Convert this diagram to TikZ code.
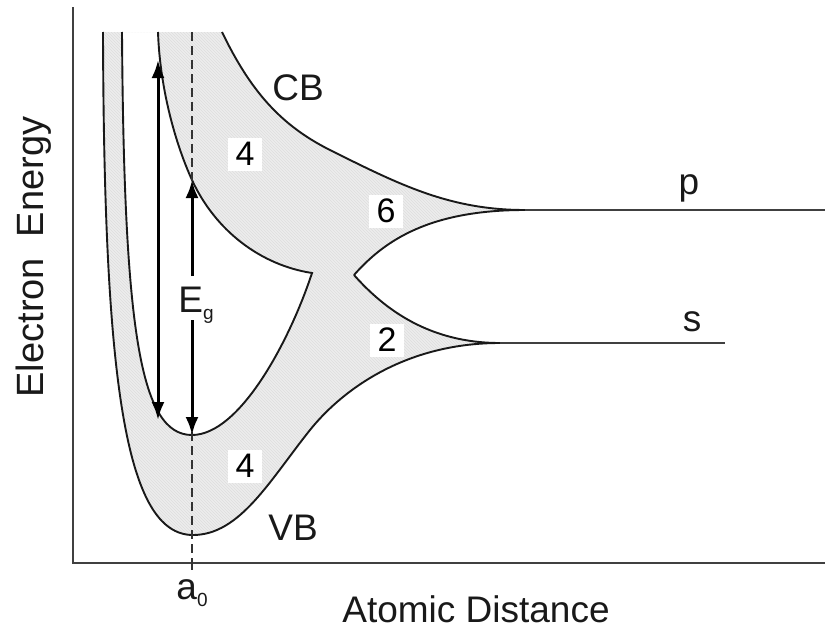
\documentclass[tikz,border=0pt]{standalone}
\usepackage{fontspec}
\setmainfont{Liberation Sans}
\usetikzlibrary{arrows.meta, patterns}
\newcommand{\subtxt}[1]{\raisebox{-7pt}{\fontsize{19}{20}\selectfont #1}}

\begin{document}
\begin{tikzpicture}[x=1pt, y=-1pt, >={Latex[length=18pt, width=13pt]},
    band/.style={fill=black!7, postaction={pattern=north west lines, pattern color=black!13}},
    curve/.style={line width=1.9pt, black!90},
    level/.style={line width=1.8pt, black!75},
    axis/.style={line width=1.4pt, black!75},
    arrow/.style={->, line width=3pt, black},
    num/.style={fill=white, minimum width=34pt, minimum height=33pt, inner sep=0pt, font=\fontsize{34}{38}\selectfont},
    lbl/.style={inner sep=0pt, text=black!90, font=\fontsize{37}{40}\selectfont}]
    \useasboundingbox (0,0) rectangle (825,629);
    \coordinate (vbmin) at (193,535);
    \coordinate (gapmin) at (192,435);
    \coordinate (cuspL) at (312,273);
    \coordinate (cuspR) at (354,275);
    \coordinate (smerge) at (500,343);
    \coordinate (pmerge) at (525,210);
    \coordinate (send) at (725,343);
    \coordinate (pend) at (825,210);
    \coordinate (cbtop) at (192,180);
    \path[band, even odd rule]
        (103,32) .. controls (104,380) and (125,535) .. (vbmin)
        .. controls (240,535) and (270,480) .. (310,430)
        .. controls (338,395) and (400,343) .. (smerge)
        .. controls (430,343) and (385,310) .. (cuspR)
        .. controls (385,240) and (430,210) .. (pmerge)
        .. controls (450,210) and (400,185) .. (330,150)
        .. controls (280,125) and (250,90) .. (222,32) -- cycle
        (122,32) .. controls (124,330) and (140,435) .. (gapmin)
        .. controls (240,435) and (290,340) .. (cuspL)
        .. controls (260,265) and (215,230) .. (cbtop)
        .. controls (176,145) and (160,90) .. (158,32) -- cycle;
    \draw[curve] (103,32) .. controls (104,380) and (125,535) .. (vbmin)
        .. controls (240,535) and (270,480) .. (310,430)
        .. controls (338,395) and (400,343) .. (smerge);
    \draw[curve] (cuspR) .. controls (385,310) and (430,343) .. (smerge);
    \draw[curve] (cuspR) .. controls (385,240) and (430,210) .. (pmerge);
    \draw[curve] (222,32) .. controls (250,90) and (280,125) .. (330,150)
        .. controls (400,185) and (450,210) .. (pmerge);
    \draw[curve] (122,32) .. controls (124,330) and (140,435) .. (gapmin)
        .. controls (240,435) and (290,340) .. (cuspL)
        .. controls (260,265) and (215,230) .. (cbtop)
        .. controls (176,145) and (160,90) .. (158,32);
    \draw[level] (smerge) -- (send);
    \draw[level] (pmerge) -- (pend);
    \coordinate (ytop) at (73,7);
    \coordinate (origin) at (73,563);
    \coordinate (xend) at (825,563);
    \coordinate (a0top) at (192,32);
    \coordinate (a0axis) at (192,563);
    \coordinate (a0tick) at (192,570);
    \coordinate (gapup) at (192,276);
    \coordinate (gapdown) at (192,320);
    \draw[axis] (ytop) -- (origin) -- (xend);
    \draw[line width=1.3pt, black!80, dash pattern=on 9pt off 5pt] (a0top) -- (gapup);
    \draw[line width=1.3pt, black!80, dash pattern=on 9pt off 5pt] (gapdown) -- (a0axis);
    \draw[line width=1.3pt, black!80] (a0axis) -- (a0tick);
    \coordinate (eglow) at (158,420);
    \coordinate (eghigh) at (158,60);
    \draw[arrow, <->] (eglow) -- (eghigh);
    \draw[arrow] (gapup) -- (cbtop);
    \draw[arrow] (gapdown) -- (gapmin);
    \node[lbl, anchor=base] (eg) at (196,312) {E\subtxt{g}};
    \node[num] (n4up) at (245,154) {4};
    \node[num] (n6) at (386,211) {6};
    \node[num] (n2) at (387,340) {2};
    \node[num] (n4low) at (245,466) {4};
    \node[lbl] (cb) at (298,88) {CB};
    \node[lbl] (vb) at (293,528) {VB};
    \node[lbl] (plab) at (689,188) {p};
    \node[lbl] (slab) at (692,322) {s};
    \node[lbl, anchor=base] (a0) at (192,599) {a\subtxt{0}};
    \node[lbl] (xlab) at (476,609) {Atomic Distance};
    \node[lbl, rotate=90, anchor=base, font=\fontsize{38}{40}\selectfont] (ylab) at (43,257) {Electron\hspace{0.55em}Energy};
\end{tikzpicture}
\end{document}
